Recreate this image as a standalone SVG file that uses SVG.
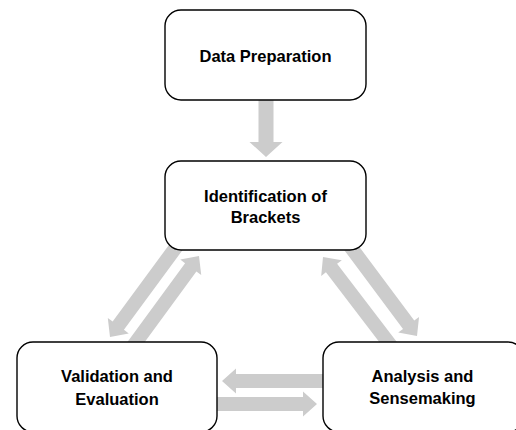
<svg xmlns="http://www.w3.org/2000/svg" xmlns:xlink="http://www.w3.org/1999/xlink" width="516" height="430" viewBox="0 0 516 430">
  <style>
    .box { fill: #ffffff; stroke: #000000; stroke-width: 1.4; }
    .arrow { fill: #cccccc; stroke: none; }
    .label { font-family: "Liberation Sans", Arial, sans-serif; font-weight: bold; font-size: 16.5px; fill: #000000; text-anchor: middle; }
  </style>
  <defs>
    <path id="arr" d="M0,0 L-14,-13 L-14,-7 L-120,-7 L-120,7 L-14,7 L-14,13 Z"/>
    <path id="arrH" d="M0,0 L-14,-12.5 L-14,-7 L-112,-7 L-112,7 L-14,7 L-14,12.5 Z"/>
    <path id="arrDown" d="M0,0 L-15,-16.5 L-15,-7.5 L-67,-7.5 L-67,7.5 L-15,7.5 L-15,16.5 Z"/>
  </defs>
  <rect width="516" height="430" fill="#ffffff"/>
  <g id="connectors">
    <use href="#arrDown" class="arrow" transform="translate(266,157) rotate(90)"/>
    <use href="#arr" class="arrow" transform="translate(110,337) rotate(126.3)"/>
    <use href="#arr" class="arrow" transform="translate(199,256) rotate(-53.8)"/>
    <use href="#arr" class="arrow" transform="translate(323,257) rotate(-127.4)"/>
    <use href="#arr" class="arrow" transform="translate(417,336) rotate(53.3)"/>
    <use href="#arrH" class="arrow" transform="translate(222,381) rotate(180)"/>
    <use href="#arrH" class="arrow" transform="translate(317,404)"/>
  </g>
  <g id="data-preparation">
    <rect class="box" x="165" y="10" width="201" height="90" rx="16"/>
    <text class="label" x="265.5" y="62">Data Preparation</text>
  </g>
  <g id="identification-of-brackets">
    <rect class="box" x="165" y="161" width="201" height="89" rx="16"/>
    <text class="label" x="265.5" y="202">Identification of</text>
    <text class="label" x="265.5" y="223">Brackets</text>
  </g>
  <g id="validation-and-evaluation">
    <rect class="box" x="17" y="342" width="200" height="90" rx="16"/>
    <text class="label" x="117" y="382">Validation and</text>
    <text class="label" x="117" y="405">Evaluation</text>
  </g>
  <g id="analysis-and-sensemaking">
    <rect class="box" x="323" y="342" width="201" height="90" rx="16"/>
    <text class="label" x="422.5" y="382">Analysis and</text>
    <text class="label" x="422.5" y="404">Sensemaking</text>
  </g>
</svg>
